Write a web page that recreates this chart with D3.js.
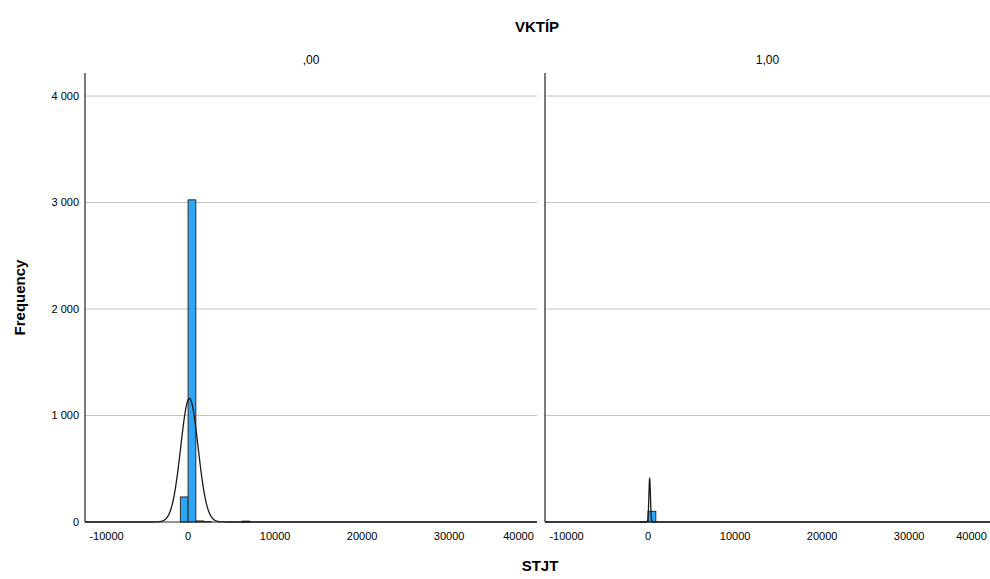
<!DOCTYPE html>
<html>
<head>
<meta charset="utf-8">
<script src="https://cdn.jsdelivr.net/npm/d3@7/dist/d3.min.js"></script>
<style>
  body { margin: 0; background: #fff; }
  text { font-family: Arial, 'Liberation Sans', sans-serif; fill: #000; }
</style>
</head>
<body>
<div id="chart"></div>
<script>
// panel labels (VKTÍP groups)
const panelLabels = [',00', '1,00']
const binWidth = 886
// histogram bins per panel: start of bin and frequency
const binStarts0 = [-886, 0, 886, 1772, 6202]
const counts0 = [235, 3025, 10, 4, 8]
const binStarts1 = [-886, 0]
const counts1 = [3, 100]
// normal curve stats per panel
const fitN = [3282, 103]
const fitMean = [150, 180]
const fitSd = [1000, 90]
// ticks
const xTicks = [-10000, 0, 10000, 20000, 30000, 40000]
const yTicks = [0, 1000, 2000, 3000, 4000]

const width = 990
const height = 579
const plotTop = 73
const plotBottom = 522
const panelX = [85, 545]
const panelW = 452
const xDomain = [-11850, 40100]

const svg = d3.select('#chart').append('svg')
  .attr('width', width)
  .attr('height', height)

const y = d3.scaleLinear().domain([0, 4216]).range([plotBottom, plotTop])
const fmtY = d => d3.format(',')(d).replace(/,/g, ' ')

svg.append('defs').append('clipPath').attr('id', 'page')
  .append('rect').attr('x', 0).attr('y', 0).attr('width', width).attr('height', height)

// titles
svg.append('text').attr('x', 537).attr('y', 32).attr('text-anchor', 'middle')
  .style('font-size', '15px').style('font-weight', 'bold').text('VKTÍP')
svg.append('text').attr('x', 540).attr('y', 571).attr('text-anchor', 'middle')
  .style('font-size', '15px').style('font-weight', 'bold').text('STJT')
svg.append('text').attr('transform', `translate(25,${(plotTop + plotBottom) / 2}) rotate(-90)`)
  .attr('text-anchor', 'middle')
  .style('font-size', '15px').style('font-weight', 'bold').text('Frequency')

// y tick labels
svg.append('g').selectAll('text').data(yTicks).enter().append('text')
  .attr('x', 79).attr('y', d => y(d)).attr('dy', '0.35em')
  .attr('text-anchor', 'end').style('font-size', '11px').text(fmtY)

const panelData = [
  { starts: binStarts0, counts: counts0 },
  { starts: binStarts1, counts: counts1 },
]

panelData.forEach((p, i) => {
  const x0 = panelX[i]
  const x1 = Math.min(x0 + panelW, width)
  const x = d3.scaleLinear().domain(xDomain).range([x0, x0 + panelW])
  const g = svg.append('g').attr('clip-path', 'url(#page)')

  // header
  svg.append('text').attr('x', (x0 + x1) / 2).attr('y', 64).attr('text-anchor', 'middle')
    .style('font-size', '12px').text(panelLabels[i])

  // gridlines
  g.append('g').selectAll('line').data(yTicks.filter(d => d > 0)).enter().append('line')
    .attr('x1', x0).attr('x2', x1)
    .attr('y1', d => y(d)).attr('y2', d => y(d))
    .attr('stroke', '#c4c4c4').attr('stroke-width', 1)

  // bars
  const bins = p.starts.map((s, k) => ({ x0: s, x1: s + binWidth, n: p.counts[k] }))
  g.append('g').selectAll('rect').data(bins).enter().append('rect')
    .attr('x', d => x(d.x0))
    .attr('width', d => x(d.x1) - x(d.x0))
    .attr('y', d => y(d.n))
    .attr('height', d => plotBottom - y(d.n))
    .attr('fill', '#2ea6f6')
    .attr('stroke', '#2b2b2b')
    .attr('stroke-width', 1)

  // normal curve
  const norm = v => fitN[i] * binWidth / (fitSd[i] * Math.sqrt(2 * Math.PI)) *
    Math.exp(-0.5 * Math.pow((v - fitMean[i]) / fitSd[i], 2))
  const xs = d3.range(xDomain[0], xDomain[1], 10)
  g.append('path')
    .datum(xs)
    .attr('d', d3.line().x(v => x(v)).y(v => y(norm(v))))
    .attr('fill', 'none')
    .attr('stroke', '#1a1a1a')
    .attr('stroke-width', 1.3)

  // axis frame
  g.append('line').attr('x1', x0).attr('x2', x0).attr('y1', plotTop).attr('y2', plotBottom)
    .attr('stroke', '#222').attr('stroke-width', 1.2)
  g.append('line').attr('x1', x0).attr('x2', x1).attr('y1', plotBottom).attr('y2', plotBottom)
    .attr('stroke', '#222').attr('stroke-width', 1.2)

  // x tick labels, kept inside the panel
  g.append('g').selectAll('text').data(xTicks).enter().append('text')
    .attr('x', d => {
      const half = String(d).length * 3.1
      return Math.max(x0 + 3 + half, Math.min(x1 - 3 - half, x(d)))
    })
    .attr('y', 540)
    .attr('text-anchor', 'middle')
    .style('font-size', '11px')
    .text(d => d)
})
</script>
</body>
</html>
